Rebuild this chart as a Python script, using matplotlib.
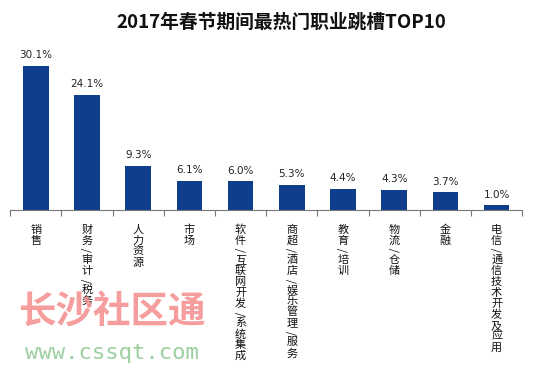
import matplotlib.pyplot as plt
import numpy as np

plt.rcParams['font.family'] = ['Noto Sans CJK SC', 'DejaVu Sans']

jobs = ['销售', '财务/审计/税务', '人力资源', '市场', '软件/互联网开发/系统集成',
        '商超/酒店/娱乐管理/服务', '教育/培训', '物流/仓储', '金融', '电信/通信技术开发及应用']
share = [30.1, 24.1, 9.3, 6.1, 6.0, 5.3, 4.4, 4.3, 3.7, 1.0]

fig = plt.figure(figsize=(5.34, 3.72), dpi=100)
ax = fig.add_axes([0.019, 0.435, 0.959, 0.45])

x = np.arange(len(jobs))
ax.bar(x, share, width=0.5, color='#0f3f8c')
for xi, v in zip(x, share):
    ax.text(xi, v + 1.2, '%.1f%%' % v, ha='center', va='bottom', fontsize=7.5,
            family='DejaVu Sans', color='#222222')

ax.set_xlim(-0.5, len(jobs) - 0.5)
ax.set_ylim(0, 35)
for s in ['top', 'right', 'left']:
    ax.spines[s].set_visible(False)
ax.spines['bottom'].set_color('#777777')
ax.set_yticks([])
ax.set_xticks(np.arange(len(jobs) + 1) - 0.5)
ax.set_xticklabels([])
ax.tick_params(axis='x', direction='out', length=4, color='#777777')

# vertical labels, one character per row
for xi, name in zip(x, jobs):
    y = -10
    for ch in name:
        h = 6.0 if ch == '/' else 7.9
        ax.annotate(ch, xy=(xi, 0), xycoords='data',
                    xytext=(0, y - h / 2), textcoords='offset points',
                    ha='center', va='center', fontsize=8, color='#111111',
                    rotation=90 if ch == '/' else 0)
        y -= h

fig.text(0.526, 0.94, '2017年春节期间最热门职业跳槽TOP10', ha='center', va='center',
         fontsize=13.5, fontweight='bold', color='#111111')

# watermark
fig.text(0.21, 0.165, '长沙社区通', ha='center', va='center', fontsize=27,
         fontweight='bold', color='#f49492', alpha=0.9)
fig.text(0.21, 0.05, 'www.cssqt.com', ha='center', va='center', fontsize=16,
         family='DejaVu Sans Mono', color='#9ccf9f')

fig.savefig('out.png', dpi=100)
